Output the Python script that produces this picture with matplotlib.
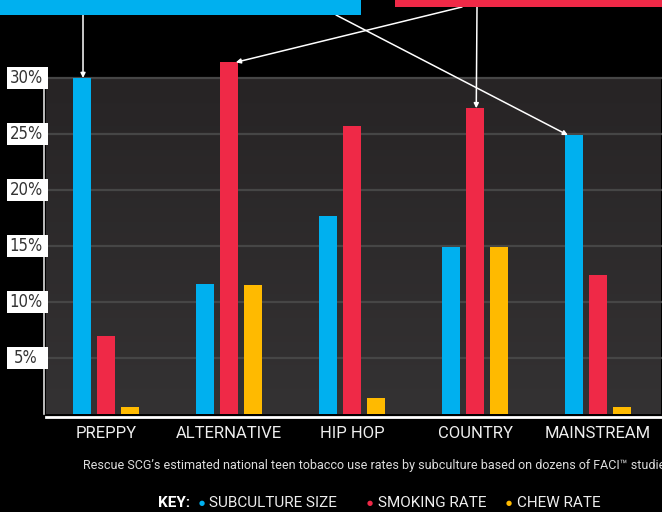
import numpy as np
import matplotlib
matplotlib.use("Agg")
import matplotlib.pyplot as plt
from matplotlib.patches import Rectangle

# data (percent)
categories = ["PREPPY", "ALTERNATIVE", "HIP HOP", "COUNTRY", "MAINSTREAM"]
subculture_size = [30.0, 11.6, 17.7, 14.9, 24.9]
smoking_rate = [7.0, 31.4, 25.7, 27.3, 12.4]
chew_rate = [0.6, 11.5, 1.4, 14.9, 0.6]
y_ticks = [5, 10, 15, 20, 25, 30]
y_tick_labels = ["5%", "10%", "15%", "20%", "25%", "30%"]

BLUE = "#00b0ef"
RED = "#ef2947"
YELLOW = "#ffba00"

W, H = 662, 512
fig = plt.figure(figsize=(W / 100, H / 100), dpi=100, facecolor="black")

# axes placed in pixel terms
left, right, bottom, top = 46, 661, 414, 78
ax = fig.add_axes([left / W, 1 - bottom / H, (right - left) / W, (bottom - top) / H])
ax.set_facecolor("#2b2829")

x = np.arange(len(categories))
ax.set_xlim(-0.488, 4.512)
ax.set_ylim(0, 30)

# gradient background
grad = np.linspace(0, 1, 256).reshape(-1, 1)
ax.imshow(grad, extent=[0, 1, 0, 1], transform=ax.transAxes, aspect="auto",
          cmap=matplotlib.colors.LinearSegmentedColormap.from_list("g", ["#272425", "#343233"]),
          zorder=0)

for v in y_ticks:
    ax.axhline(v, color="#464646", lw=1.6, zorder=1, clip_on=False)

bw = 0.146
off = 0.195
ax.bar(x - off, subculture_size, bw, color=BLUE, zorder=3, clip_on=False)
ax.bar(x, smoking_rate, bw, color=RED, zorder=3, clip_on=False)
ax.bar(x + off, chew_rate, bw, color=YELLOW, zorder=3, clip_on=False)

for s in ["top", "right"]:
    ax.spines[s].set_visible(False)
ax.spines["bottom"].set_color("white")
ax.spines["bottom"].set_linewidth(2.0)
ax.spines["bottom"].set_position(("outward", 2))
ax.spines["left"].set_color("#dddddd")
ax.spines["left"].set_linewidth(1.2)
ax.spines["left"].set_position(("outward", 1.5))
ax.set_yticks([])
ax.set_xticks(x)
ax.set_xticklabels(categories, color="#eeeeee", fontsize=12, family=["Roboto", "DejaVu Sans"])
ax.tick_params(axis="x", length=0, pad=7)

# y labels in white boxes
ytr = ax.get_yaxis_transform()
for v, lab in zip(y_ticks, y_tick_labels):
    ax.add_patch(Rectangle((-0.0634, v - 0.98), 0.0667, 1.96, transform=ytr,
                           facecolor="white", edgecolor="none", clip_on=False, zorder=5))
    ax.text(-0.0325, v, lab, transform=ytr, ha="center", va="center", fontsize=12,
            color="#333333", family="DejaVu Sans", fontstretch="condensed", zorder=6)

# header bars
fig.patches.append(Rectangle((0, 1 - 15 / H), 361 / W, 15 / H, transform=fig.transFigure,
                             facecolor=BLUE, edgecolor="none"))
fig.patches.append(Rectangle((395 / W, 1 - 7 / H), (W - 395) / W, 7 / H, transform=fig.transFigure,
                             facecolor=RED, edgecolor="none"))

arrow = dict(arrowstyle="-|>", color="white", lw=1.1, mutation_scale=7, shrinkA=0, shrinkB=0)
ax.annotate("", xy=(x[0] - off + 0.008, subculture_size[0]), xycoords="data",
            xytext=(83, H - 15), textcoords="figure pixels", arrowprops=arrow, annotation_clip=False)
ax.annotate("", xy=(x[4] - off - 0.05, subculture_size[4]), xycoords="data",
            xytext=(336, H - 15), textcoords="figure pixels", arrowprops=arrow, annotation_clip=False)
ax.annotate("", xy=(x[1] + 0.055, smoking_rate[1]), xycoords="data",
            xytext=(462, H - 7), textcoords="figure pixels", arrowprops=arrow, annotation_clip=False)
ax.annotate("", xy=(x[3] + 0.01, smoking_rate[3]), xycoords="data",
            xytext=(477, H - 7), textcoords="figure pixels", arrowprops=arrow, annotation_clip=False)

# caption
fig.text(83 / W, 1 - 466 / H,
         "Rescue SCG\u2019s estimated national teen tobacco use rates by subculture based on dozens of FACI\u2122 studies",
         color="#dddddd", fontsize=9, va="center", ha="left", family=["Roboto", "DejaVu Sans"])

# key
ky = 1 - 503 / H
fig.text(158 / W, ky, "KEY:", color="white", fontsize=11, fontweight="bold", va="center",
         family=["Roboto", "DejaVu Sans"])
for dx, tx, lab, col in [(202, 209, "SUBCULTURE SIZE", BLUE), (370, 378, "SMOKING RATE", RED),
                         (509, 517, "CHEW RATE", YELLOW)]:
    fig.text(dx / W, ky, "\u25cf", color=col, fontsize=5, va="center", ha="center")
    fig.text(tx / W, ky, lab, color="#eeeeee", fontsize=11, va="center", ha="left",
             family=["Roboto", "DejaVu Sans"])

fig.savefig("out.png", dpi=100, facecolor="black")
